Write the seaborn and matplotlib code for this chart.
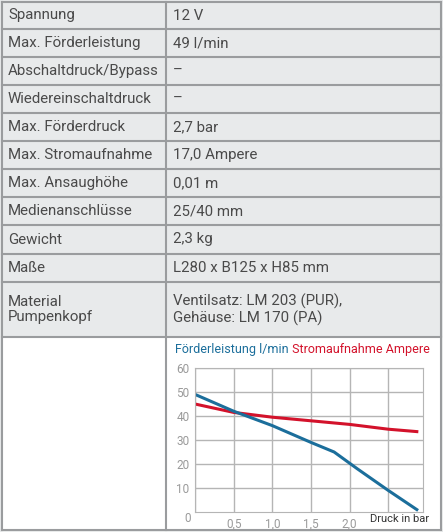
import matplotlib
matplotlib.use("Agg")
import matplotlib.pyplot as plt
import seaborn as sns
import pandas as pd

labels = ["Spannung", "Max. Förderleistung", "Abschaltdruck/Bypass", "Wiedereinschaltdruck",
          "Max. Förderdruck", "Max. Stromaufnahme", "Max. Ansaughöhe", "Medienanschlüsse",
          "Gewicht", "Maße", "Material\nPumpenkopf"]
values = ["12 V", "49 l/min", "–", "–", "2,7 bar", "17,0 Ampere", "0,01 m", "25/40 mm",
          "2,3 kg", "L280 x B125 x H85 mm", "Ventilsatz: LM 203 (PUR),\nGehäuse: LM 170 (PA)"]
pressure = [0, 0.5, 1.0, 1.5, 1.8, 2.1, 2.5, 2.87]
flow = [49, 42, 36, 29, 25, 18, 9, 1]
pressure_a = [0, 0.5, 1.0, 1.5, 2.0, 2.5, 2.87]
current = [45, 41.5, 39.5, 38, 36.5, 34.5, 33.5]
xticks = [0, 0.5, 1.0, 1.5, 2.0]
xticklabels = ["0", "0,5", "1,0", "1,5", "2,0"]
yticks = [10, 20, 30, 40, 50, 60]

W, H = 443, 532
plt.rcParams['font.family'] = ['Liberation Sans Narrow', 'Roboto', 'DejaVu Sans']
fig = plt.figure(figsize=(W/100, H/100), dpi=100)
fig.patch.set_facecolor("#e8eaeb")
bg = fig.add_axes([0, 0, 1, 1])
bg.set_xlim(0, W); bg.set_ylim(H, 0); bg.axis("off")

bounds = [2, 29, 57, 85, 113, 141, 169, 197, 225, 254, 282, 337]
lc = "#9a9c9e"
bg.fill_between([2, 441], 337, 530, color="white")
for y in bounds + [530]:
    bg.plot([2, 441], [y, y], color=lc, lw=1.5)
bg.plot([2, 2], [2, 530], color=lc, lw=1.5)
bg.plot([441, 441], [2, 530], color=lc, lw=1.5)
bg.plot([166, 166], [2, 530], color=lc, lw=1.5)
tc = "#4a4a4a"
for i, (l, v) in enumerate(zip(labels, values)):
    yc = (bounds[i] + bounds[i+1]) / 2
    bg.text(8, yc, l, va="center", ha="left", fontsize=10.8, color=tc, linespacing=1.15)
    bg.text(173, yc, v, va="center", ha="left", fontsize=10.8, color=tc, linespacing=1.15)

blue, red = "#1b6e9b", "#d3122b"
t1 = bg.text(175, 350, "Förderleistung l/min", color=blue, fontsize=9, va="center")
bg.annotate(" Stromaufnahme Ampere", xy=(1, 0.5), xycoords=t1, color=red, fontsize=9,
            va="center", ha="left")

ax = fig.add_axes([195/W, 1 - 512/H, (423-195)/W, (512-368)/H])
ax.set_facecolor("white")
df1 = pd.DataFrame({"p": pressure, "v": flow})
df2 = pd.DataFrame({"p": pressure_a, "v": current})
sns.lineplot(data=df2, x="p", y="v", ax=ax, color=red, lw=2.2)
sns.lineplot(data=df1, x="p", y="v", ax=ax, color=blue, lw=2.2)
ax.set_xlim(0, 2.95); ax.set_ylim(0, 60)
ax.set_xticks(xticks + [2.5])
ax.set_yticks(yticks)
ax.grid(True, color="#b5b5b5", lw=1)
ax.set_axisbelow(True)
for s in ax.spines.values():
    s.set_color("#b5b5b5")
ax.tick_params(length=0, colors="#9a9a9a", labelsize=8.5, pad=4)
ax.set_xlabel(""); ax.set_ylabel("")
ax.set_xticklabels([""] + xticklabels[1:] + [""])
bg.text(188, 519, "0", color="#9a9a9a", fontsize=8.5, ha="center", va="center")
bg.text(370, 519, "Druck in bar", color="#333333", fontsize=8, ha="left", va="center")
fig.savefig("out.png", dpi=100, facecolor=fig.get_facecolor())
